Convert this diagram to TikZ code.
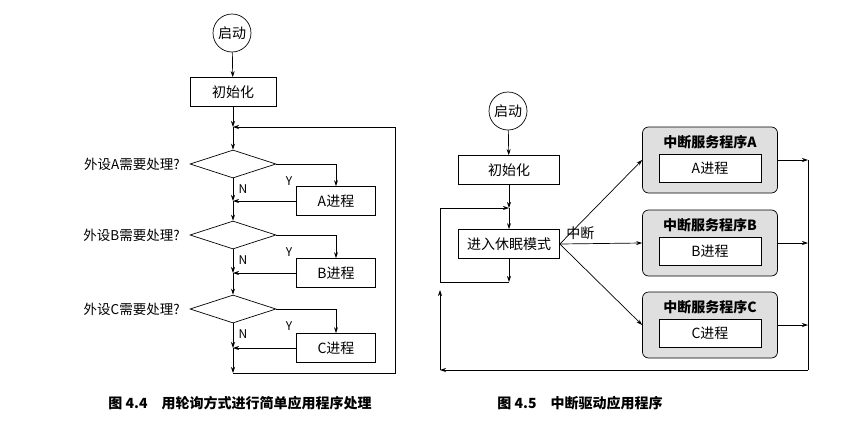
\documentclass[tikz,border=0pt]{standalone}
\usepackage{fontspec}
\setmainfont{Noto Sans CJK SC}
\usetikzlibrary{arrows.meta,shapes.geometric}

\tikzset{
  txt/.style={font=\fontsize{14}{16}\selectfont},
  startnode/.style={draw,circle,minimum size=38pt,inner sep=0pt,txt},
  proc/.style={draw,minimum height=29pt,txt},
  decide/.style={draw,diamond,aspect=3,minimum width=86pt,minimum height=28pt,inner sep=0pt},
  isr/.style={draw,rounded corners=6pt,fill=gray!25,minimum width=135pt,minimum height=66pt},
  arr/.style={-{Stealth[length=6pt,width=4pt]}},
  caption/.style={font=\fontsize{14}{16}\selectfont\bfseries}
}

\begin{document}
\begin{tikzpicture}[x=1pt,y=-1pt,line width=0.7pt]

  \useasboundingbox (0,0) rectangle (855,421);

  %% left: polling
  \node[startnode] (s1) at (232,33) {启动};
  \node[proc,minimum width=86pt] (i1) at (233,92) {初始化};
  \coordinate (j0) at (233,127);

  \foreach \n/\y/\by in {A/164/201, B/235/273, C/309/348} {
    \node[decide] (d\n) at (233,\y) {};
    \node[anchor=east,inner sep=0pt,font=\fontsize{13.5}{15}\selectfont] at (180,\y) {外设\n 需要处理?};
    \node[proc,minimum width=79pt] (p\n) at (336,\by) {\n 进程};
    \coordinate (m\n) at (233,\by);
    \draw[arr] (d\n.east) -| (p\n.north);
    \draw[arr] (p\n.west) -- (m\n);
    \draw[arr] (d\n.south) -- (m\n);
    \node[font=\fontsize{12}{13}\selectfont] at (243,\y+25) {N};
    \node[font=\fontsize{12}{13}\selectfont] at (289,\y+17) {Y};
  }
  \coordinate (e1) at (233,373);
  \coordinate (r1) at (395,373);

  \draw[arr] (s1) -- (i1);
  \draw[arr] (i1) -- (j0);
  \draw[arr] (j0) -- (dA.north);
  \draw[arr] (mA) -- (dB.north);
  \draw[arr] (mB) -- (dC.north);
  \draw[arr] (mC) -- (e1);
  \draw[arr] (e1) -- (r1) |- (j0);

  \node[caption] at (240,403) {图 4.4\quad 用轮询方式进行简单应用程序处理};

  %% right: interrupt
  \node[startnode] (s2) at (508,111) {启动};
  \node[proc,minimum width=101pt] (i2) at (509,170) {初始化};
  \node[proc,minimum width=101pt] (sl) at (509,244) {进入休眠模式};
  \coordinate (j1) at (509,208);
  \coordinate (j2) at (509,282);
  \coordinate (lt) at (440,208);
  \coordinate (lb) at (440,282);
  \coordinate (ll) at (440,370);
  \coordinate (rr) at (808,370);

  \foreach \n/\y in {A/160, B/243, C/325} {
    \node[isr] (v\n) at (710,\y) {};
    \node[font=\fontsize{14}{16}\selectfont\bfseries] at (710,\y-18) {中断服务程序\n};
    \node[proc,fill=white,minimum width=102pt,minimum height=28pt] at (710,\y+8) {\n 进程};
    \coordinate (o\n) at (808,\y);
    \draw[arr] (v\n.east) -- (o\n);
  }

  \draw[arr] (s2) -- (i2);
  \draw[arr] (i2) -- (j1);
  \draw[arr] (j1) -- (sl);
  \draw[arr] (sl) -- (j2);
  \draw (j2) -- (lb);
  \draw[arr] (lb) -- (lt) -- (j1);
  \draw[arr] (sl.east) -- (vA.west);
  \draw[arr] (sl.east) -- node[above,txt,pos=0.25] {中断} (vB.west);
  \draw[arr] (sl.east) -- (vC.west);
  \draw (oA) -- (rr);
  \draw[arr] (rr) -- (ll);
  \draw[arr] (ll) -- (440,290);

  \node[caption] at (580,403) {图 4.5\quad 中断驱动应用程序};

\end{tikzpicture}
\end{document}
